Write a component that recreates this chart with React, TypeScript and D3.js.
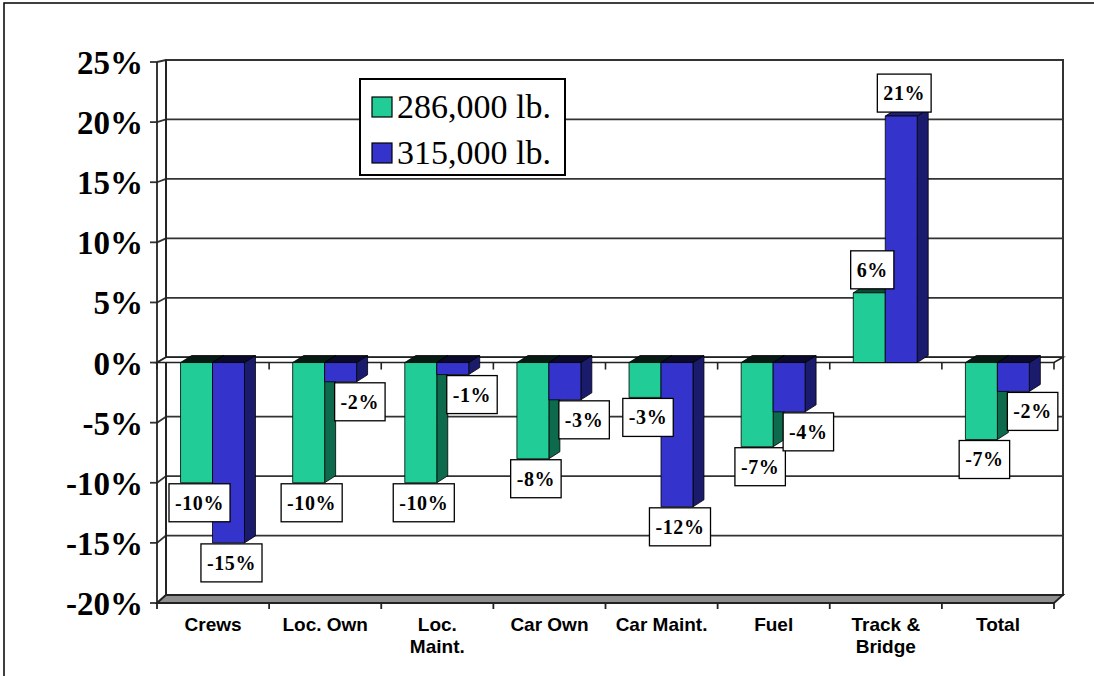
import React from "react";
import * as d3 from "d3";

const categories = ["Crews", "Loc. Own", "Loc. Maint.", "Car Own", "Car Maint.", "Fuel", "Track & Bridge", "Total"];
const categoryLines = [["Crews"], ["Loc. Own"], ["Loc.", "Maint."], ["Car Own"], ["Car Maint."], ["Fuel"], ["Track &", "Bridge"], ["Total"]];
const seriesNames = ["286,000 lb.", "315,000 lb."];
const values286 = [-10, -10, -10, -8, -2.9, -7, 5.8, -6.4];
const values315 = [-15, -1.6, -1.0, -3.1, -12, -4.1, 20.5, -2.4];
const labels286 = ["-10%", "-10%", "-10%", "-8%", "-3%", "-7%", "6%", "-7%"];
const labels315 = ["-15%", "-2%", "-1%", "-3%", "-12%", "-4%", "21%", "-2%"];
const yTicks = [25, 20, 15, 10, 5, 0, -5, -10, -15, -20];

const colors = [
  { front: "#21cc97", side: "#0e6a4c", topNeg: "#071a13", topPos: "#0c4a36" },
  { front: "#3434cc", side: "#1b1b6e", topNeg: "#0a0a2a", topPos: "#20207a" },
];

const W = 1094, H = 676;
const FL = 157, FR = 1054;
const WX = 9; // wall depth offset x
const BDX = 11, BDY = -7; // bar depth
const yFront = d3.scaleLinear().domain([-20, 25]).range([603, 62]);
const yBack = d3.scaleLinear().domain([-20, 25]).range([595, 60]);
const xBand = d3.scaleBand().domain(categories).range([FL, FR]);
const bw = xBand.bandwidth();
const xSub = d3.scaleBand().domain(seriesNames).range([0, bw * 0.57]);
const groupOff = bw * 0.21;
const barW = xSub.bandwidth();

const LFS = 20;
const LSP = 0.6;
function textW(s: string) {
  let w = 0;
  for (const c of s) w += c === "%" ? 1.0 : c === "-" ? 0.333 : 0.5;
  return w * LFS + LSP * s.length;
}

export default function App() {
  const seriesVals = [values286, values315];
  const seriesLabels = [labels286, labels315];
  const y0 = yFront(0);

  const bars: any[] = [];
  const labelBoxes: any[] = [];
  categories.forEach((c, ci) => {
    const gx = (xBand(c) as number) + groupOff;
    seriesNames.forEach((s, si) => {
      const v = seriesVals[si][ci];
      const x = gx + (xSub(s) as number);
      const yv = yFront(v);
      const col = colors[si];
      const top = Math.min(y0, yv), bot = Math.max(y0, yv);
      const topY = v >= 0 ? yv : y0;
      bars.push(
        <g key={`b${ci}-${si}`} stroke="#000" strokeWidth={0.8} strokeLinejoin="round">
          <polygon points={`${x + barW},${top} ${x + barW + BDX},${top + BDY} ${x + barW + BDX},${bot + BDY} ${x + barW},${bot}`} fill={col.side} />
          <polygon points={`${x},${topY} ${x + BDX},${topY + BDY} ${x + barW + BDX},${topY + BDY} ${x + barW},${topY}`} fill={v >= 0 ? col.topPos : col.topNeg} />
          <rect x={x} y={top} width={barW} height={bot - top} fill={col.front} />
        </g>
      );
      const txt = seriesLabels[si][ci];
      const lw = textW(txt) + 12;
      const lh = 38;
      let lx = x + barW / 2 + 3 - lw / 2;
      let ly = v >= 0 ? yv - 4 - lh : yv + 1;
      if (si === 1 && v < 0) {
        const gv = seriesVals[0][ci];
        const gxEnd = gx + barW + BDX;
        if (gv < 0 && ly < yFront(gv) && lx < gxEnd) lx = gxEnd - 1;
      }
      labelBoxes.push(
        <g key={`l${ci}-${si}`}>
          <rect x={lx} y={ly} width={lw} height={lh} fill="#fff" stroke="#000" strokeWidth={1.3} />
          <text x={lx + lw / 2} y={ly + lh / 2 + 7} textAnchor="middle" letterSpacing={LSP} fontFamily="'Liberation Serif', 'Times New Roman', serif" fontWeight="bold" fontSize={LFS}>{txt}</text>
        </g>
      );
    });
  });

  const boundaries = d3.range(categories.length + 1).map((i) => FL + i * bw);

  return (
    <svg width={W} height={H} style={{ position: "absolute", left: 0, top: 0, background: "#fff" }}>
      <rect x={4} y={3} width={W + 10} height={H + 10} fill="#fff" stroke="#000" strokeWidth={1.5} />
      <rect x={FL + WX} y={yBack(25)} width={FR - FL} height={yBack(-20) - yBack(25)} fill="#fff" stroke="#333" strokeWidth={2} />
      {yTicks.map((t) => (
        <g key={`g${t}`} stroke="#333" strokeWidth={1.8}>
          <line x1={FL + WX} x2={FR + WX} y1={yBack(t)} y2={yBack(t)} />
          <line x1={FL} x2={FL + WX} y1={yFront(t)} y2={yBack(t)} />
          <line x1={FL - 7} x2={FL} y1={yFront(t)} y2={yFront(t)} />
        </g>
      ))}
      <line x1={FL} x2={FL} y1={yFront(25)} y2={yFront(-20)} stroke="#222" strokeWidth={1.8} />
      <line x1={FL + WX} x2={FL + WX} y1={yBack(25)} y2={yBack(-20)} stroke="#222" strokeWidth={1.8} />
      <polygon points={`${FL},${yFront(-20)} ${FR},${yFront(-20)} ${FR + WX},${yBack(-20)} ${FL + WX},${yBack(-20)}`} fill="#8e8e8e" stroke="#222" strokeWidth={1.8} />
      {boundaries.map((bx, i) => (
        <line key={`bt${i}`} x1={bx} x2={bx} y1={yFront(-20)} y2={yFront(-20) + 6} stroke="#222" strokeWidth={1.8} />
      ))}
      <polygon points={`${FL},${y0} ${FR},${y0} ${FR + WX},${yBack(0)} ${FL + WX},${yBack(0)}`} fill="#fff" stroke="#222" strokeWidth={1.6} />
      {boundaries.map((bx, i) => (
        <line key={`zt${i}`} x1={bx} x2={bx} y1={y0} y2={y0 + 7} stroke="#222" strokeWidth={1.6} />
      ))}
      {bars}
      {labelBoxes}
      {yTicks.map((t) => (
        <text key={`yt${t}`} x={143} y={yFront(t) + 12} textAnchor="end" fontFamily="'Liberation Serif', 'Times New Roman', serif" fontWeight="bold" fontSize={33}>{`${t}%`}</text>
      ))}
      {categories.map((c, i) => (
        <text key={`c${i}`} textAnchor="middle" fontFamily="'Liberation Sans', Arial, sans-serif" fontWeight="bold" fontSize={19}>
          {categoryLines[i].map((ln, j) => (
            <tspan key={j} x={(xBand(c) as number) + bw / 2} y={631 + j * 22}>{ln}</tspan>
          ))}
        </text>
      ))}
      <rect x={360} y={79} width={205} height={96} fill="#fff" stroke="#000" strokeWidth={2} />
      {seriesNames.map((s, i) => (
        <g key={`lg${i}`}>
          <rect x={372} y={97 + i * 46} width={20} height={20} fill={colors[i].front} stroke="#000" strokeWidth={1.2} />
          <text x={397} y={118 + i * 46} fontFamily="'Liberation Serif', 'Times New Roman', serif" fontSize={34}>{s}</text>
        </g>
      ))}
    </svg>
  );
}
